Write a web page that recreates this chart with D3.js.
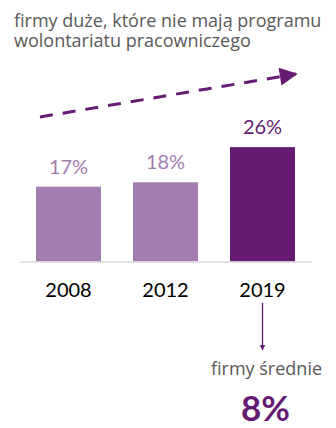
<!DOCTYPE html>
<html><head><meta charset="utf-8">
<script src="https://cdn.jsdelivr.net/npm/d3@7/dist/d3.min.js"></script>
<style>body{margin:0;background:#fff}svg{display:block}text{font-family:Lato,"Open Sans",sans-serif}</style>
</head><body>
<script>
const categories = ["2008", "2012", "2019"];
const values = [17, 18, 26];
const titleLines = ["firmy duże, które nie mają programu", "wolontariatu pracowniczego"];
const subLabel = "firmy średnie";
const subValue = "8%";

const W = 336, H = 428;
const light = "#A47DB0", dark = "#661B73", grey = "#595959";
const svg = d3.select("body").append("svg").attr("width", W).attr("height", H);

const defs = svg.append("defs");
defs.append("marker").attr("id", "ah").attr("viewBox", "0 0 10 10").attr("refX", 9).attr("refY", 5)
  .attr("markerWidth", 6).attr("markerHeight", 6).attr("markerUnits", "userSpaceOnUse").attr("orient", "auto")
  .append("path").attr("d", "M0,0L10,5L0,10Z").attr("fill", dark);
defs.append("marker").attr("id", "ah2").attr("viewBox", "0 0 10 10").attr("refX", 9).attr("refY", 5)
  .attr("markerWidth", 20).attr("markerHeight", 18).attr("markerUnits", "userSpaceOnUse").attr("orient", "auto")
  .append("path").attr("d", "M0,0L10,5L0,10Z").attr("fill", dark);

// title
svg.append("text").attr("fill", grey).attr("font-size", 18).style("font-family", "'Open Sans'")
  .selectAll("tspan").data(titleLines).join("tspan")
  .attr("x", 14).attr("y", (d, i) => 26.5 + i * 20).text(d => d);

const x = d3.scaleBand().domain(categories).range([20, 311]).paddingInner(0.33).paddingOuter(0.165);
const y = d3.scaleLinear().domain([0, 30]).range([261.5, 129.5]);

svg.append("g").selectAll("rect").data(values).join("rect")
  .attr("x", (d, i) => x(categories[i])).attr("width", x.bandwidth())
  .attr("y", d => y(d)).attr("height", d => y(0) - y(d))
  .attr("fill", (d, i) => i === 2 ? dark : light);

svg.append("g").selectAll("text").data(values).join("text")
  .attr("x", (d, i) => x(categories[i]) + x.bandwidth() / 2)
  .attr("y", d => y(d) - 13).attr("text-anchor", "middle").attr("font-size", 20)
  .attr("fill", (d, i) => i === 2 ? dark : light).text(d => d + "%");

const ax = svg.append("g").attr("transform", `translate(0,${y(0)})`)
  .call(d3.axisBottom(x).tickSize(0).tickPadding(21).tickSizeOuter(0));
ax.select(".domain").attr("stroke", "#D9D9D9").attr("stroke-width", 1.5);
ax.selectAll("text").attr("font-size", 20).attr("fill", "#000").style("font-family", "Lato");

// dashed trend arrow
svg.append("line").attr("x1", 40).attr("y1", 117).attr("x2", 296).attr("y2", 74)
  .attr("stroke", dark).attr("stroke-width", 3).attr("stroke-dasharray", "13,10")
  .attr("marker-end", "url(#ah2)");

// small arrow to medium firms
const cx = x("2019") + x.bandwidth() / 2;
svg.append("line").attr("x1", cx).attr("y1", 303).attr("x2", cx).attr("y2", 350)
  .attr("stroke", dark).attr("stroke-width", 1.3).attr("marker-end", "url(#ah)");

svg.append("text").attr("x", cx + 4).attr("y", 375).attr("text-anchor", "middle").style("font-family", "'Open Sans'")
  .attr("font-size", 18).attr("fill", grey).text(subLabel);
svg.append("text").attr("x", cx + 3).attr("y", 421).attr("text-anchor", "middle")
  .attr("font-size", 35).attr("font-weight", "bold").attr("fill", dark).text(subValue);
</script>
</body></html>
